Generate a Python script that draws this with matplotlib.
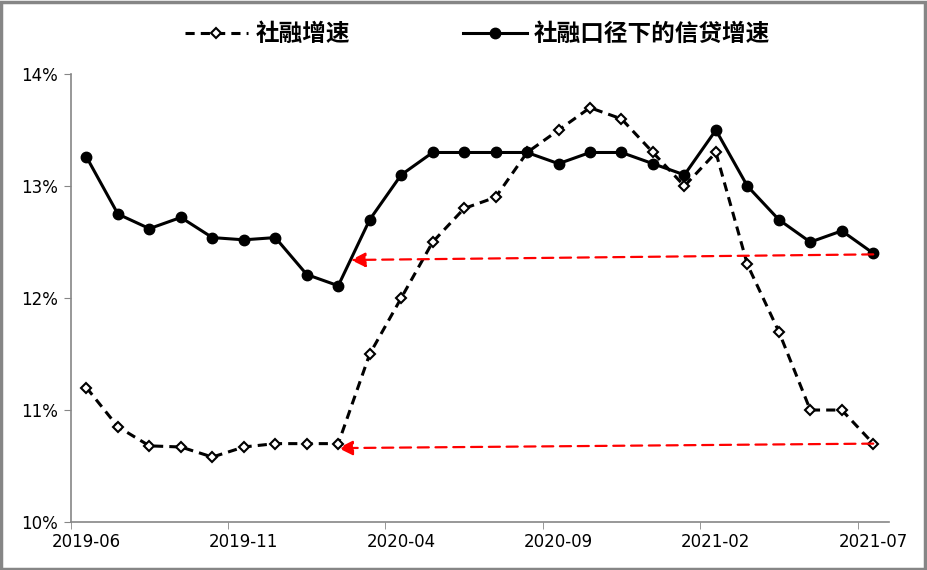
import matplotlib
matplotlib.use('Agg')
import matplotlib.pyplot as plt
from matplotlib.patches import Rectangle
from matplotlib.ticker import FuncFormatter

plt.rcParams['font.family'] = ['DejaVu Sans', 'Noto Sans CJK SC']

# monthly data, 2019-06 .. 2021-07
months = ['2019-06', '2019-07', '2019-08', '2019-09', '2019-10', '2019-11',
          '2019-12', '2020-01', '2020-02', '2020-03', '2020-04', '2020-05',
          '2020-06', '2020-07', '2020-08', '2020-09', '2020-10', '2020-11',
          '2020-12', '2021-01', '2021-02', '2021-03', '2021-04', '2021-05',
          '2021-06', '2021-07']
shrz = [11.2, 10.85, 10.68, 10.67, 10.58, 10.67, 10.7, 10.7, 10.7, 11.5,
        12.0, 12.5, 12.8, 12.9, 13.3, 13.5, 13.7, 13.6, 13.3, 13.0,
        13.3, 12.3, 11.7, 11.0, 11.0, 10.7]
xindai = [13.26, 12.75, 12.62, 12.72, 12.54, 12.52, 12.54, 12.21, 12.11, 12.7,
          13.1, 13.3, 13.3, 13.3, 13.3, 13.2, 13.3, 13.3, 13.2, 13.1,
          13.5, 13.0, 12.7, 12.5, 12.6, 12.4]
label_shrz = '社融增速'
label_xindai = '社融口径下的信贷增速'

# red arrows: (start x, start y) -> (tip x, tip y), x in month index
arrow_start = [(25, 12.39), (25, 10.70)]
arrow_tip = [(8.4, 12.34), (8.0, 10.66)]

fig = plt.figure(figsize=(9.27, 5.70), dpi=100)
ax = fig.add_axes([0.0763, 0.0842, 0.8827, 0.7858])

x = list(range(len(months)))
ax.plot(x, shrz, color='black', linestyle=(0, (3, 2)), linewidth=2.2,
        marker='D', markersize=5.5, markerfacecolor='white',
        markeredgecolor='black', markeredgewidth=1.5, label=label_shrz)
ax.plot(x, xindai, color='black', linestyle='-', linewidth=2.2,
        marker='o', markersize=7.5, label=label_xindai)

for (x0, y0), (x1, y1) in zip(arrow_start, arrow_tip):
    ax.annotate('', xy=(x1, y1), xytext=(x0, y0),
                arrowprops=dict(arrowstyle='-|>', color='red', lw=1.6,
                                linestyle=(0, (5, 3)), mutation_scale=22,
                                shrinkA=0, shrinkB=0))

ax.set_xlim(-0.5, len(months) - 0.5)
ax.set_ylim(10, 14)
ax.set_yticks([10, 11, 12, 13, 14])
ax.yaxis.set_major_formatter(FuncFormatter(lambda v, p: '%d%%' % v))

ax.set_xticks(x[::5])
ax.set_xticklabels(months[::5])
ax.set_xticks([i - 0.5 for i in x[::5]], minor=True)
ax.tick_params(axis='x', which='major', length=0, pad=8, labelsize=12)
ax.tick_params(axis='x', which='minor', length=5, color='#868686')
ax.tick_params(axis='y', length=5, color='#868686', labelsize=12, pad=4)

for s in ['top', 'right']:
    ax.spines[s].set_visible(False)
for s in ['left', 'bottom']:
    ax.spines[s].set_color('#868686')
    ax.spines[s].set_linewidth(1.2)

ax.legend(loc='center', bbox_to_anchor=(0.497, 1.09), ncol=2, frameon=False,
          prop={'family': ['Noto Sans CJK SC'], 'size': 17, 'weight': 'bold'},
          handlelength=2.7, handletextpad=0.3, columnspacing=4.8)

fig.patches.append(Rectangle((0.001, 0.002), 0.997, 0.995, transform=fig.transFigure,
                             fill=False, edgecolor='#868686', linewidth=2.5))

plt.savefig('out.png', dpi=100)
